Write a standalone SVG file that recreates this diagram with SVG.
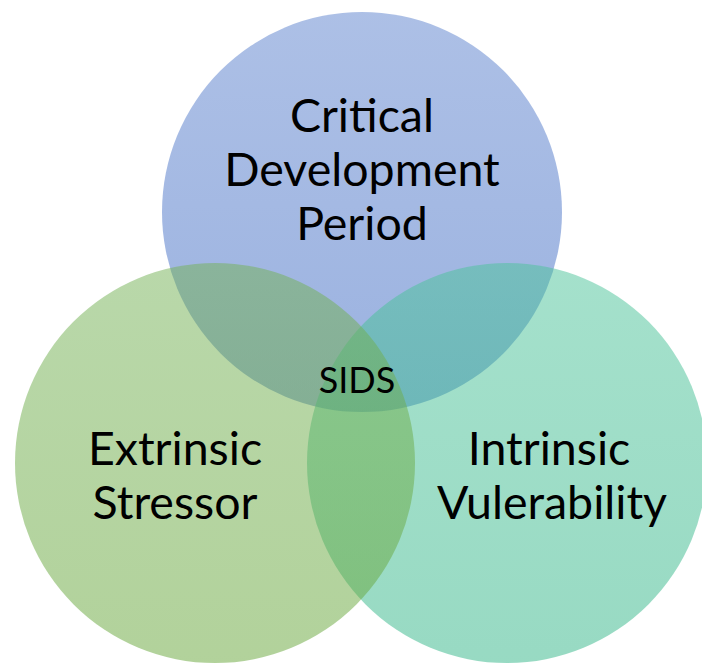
<svg xmlns="http://www.w3.org/2000/svg" width="702" height="664" viewBox="0 0 702 664">
  <defs>
    <linearGradient id="gBlue" x1="0" y1="0" x2="0" y2="1">
      <stop offset="0" stop-color="#5b81cd"/>
      <stop offset="1" stop-color="#3765c1"/>
    </linearGradient>
    <linearGradient id="gGreen" x1="0" y1="0" x2="0" y2="1">
      <stop offset="0" stop-color="#73b155"/>
      <stop offset="1" stop-color="#65a537"/>
    </linearGradient>
    <linearGradient id="gTeal" x1="0" y1="0" x2="0" y2="1">
      <stop offset="0" stop-color="#4bc399"/>
      <stop offset="1" stop-color="#31b587"/>
    </linearGradient>
  </defs>
  <style>
    .circ { fill-opacity: 0.5; stroke: none; }
    .lbl { font-family: Lato, "Liberation Sans", sans-serif; font-size: 46.5px; fill: #000000; text-anchor: middle; }
    .small { font-size: 36px; }
  </style>
  <g id="critical-development-period">
    <circle class="circ" cx="362" cy="212" r="200" fill="url(#gBlue)"/>
  </g>
  <g id="intrinsic-vulnerability">
    <circle class="circ" cx="507" cy="463" r="200" fill="url(#gTeal)"/>
  </g>
  <g id="extrinsic-stressor">
    <circle class="circ" cx="215" cy="463" r="200" fill="url(#gGreen)"/>
  </g>
  <g id="labels">
    <text class="lbl" x="362" y="132">Critical</text>
    <text class="lbl" x="362" y="186">Development</text>
    <text class="lbl" x="362" y="240">Period</text>
    <text class="lbl" x="175" y="465">Extrinsic</text>
    <text class="lbl" x="175" y="519">Stressor</text>
    <text class="lbl" x="549" y="465">Intrinsic</text>
    <text class="lbl" x="552" y="519">Vulerability</text>
  </g>
  <g id="sids">
    <text class="lbl small" x="357" y="393">SIDS</text>
  </g>
</svg>
